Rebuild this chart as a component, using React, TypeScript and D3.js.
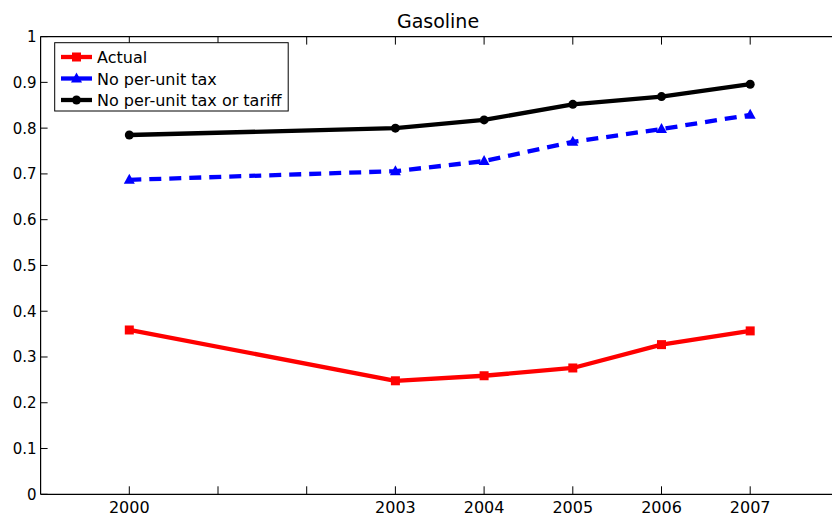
import React from "react";
import * as d3 from "d3";

const years = [2000, 2003, 2004, 2005, 2006, 2007];
const actual = [0.359, 0.248, 0.259, 0.276, 0.327, 0.357];
const noTax = [0.687, 0.706, 0.728, 0.770, 0.798, 0.829];
const noTaxTariff = [0.785, 0.800, 0.818, 0.852, 0.869, 0.896];
const xTickValues = [2000, 2001, 2002, 2003, 2004, 2005, 2006, 2007];
const xTickLabels = ["2000", "", "", "2003", "2004", "2005", "2006", "2007"];
const yTickValues = [0, 0.1, 0.2, 0.3, 0.4, 0.5, 0.6, 0.7, 0.8, 0.9, 1];
const seriesNames = ["Actual", "No per-unit tax", "No per-unit tax or tariff"];

const W = 832, H = 519;
const FONT = "'DejaVu Sans', sans-serif";

export default function App() {
  const x = d3.scaleLinear().domain([1999, 2008]).range([40.6, 838.9]);
  const y = d3.scaleLinear().domain([0, 1]).range([494.3, 36.6]);
  const line = d3.line<[number, number]>().x(d => x(d[0])).y(d => y(d[1]));
  const series = [
    { name: seriesNames[0], vals: actual, color: "#ff0000", marker: "square", dash: undefined },
    { name: seriesNames[1], vals: noTax, color: "#0000ff", marker: "triangle", dash: "12,8" },
    { name: seriesNames[2], vals: noTaxTariff, color: "#000000", marker: "circle", dash: undefined },
  ];
  const marker = (kind: string, cx: number, cy: number, color: string, key: any) => {
    if (kind === "square") return <rect key={key} x={cx - 4.5} y={cy - 4.5} width={9} height={9} fill={color} />;
    if (kind === "circle") return <circle key={key} cx={cx} cy={cy} r={4.5} fill={color} />;
    const p = `${cx},${cy - 6} ${cx - 5.5},${cy + 4} ${cx + 5.5},${cy + 4}`;
    return <polygon key={key} points={p} fill={color} />;
  };
  const x0 = x.range()[0], x1 = x.range()[1], y0 = y.range()[0], y1 = y.range()[1];
  return (
    <svg width={W} height={H} style={{ position: "absolute", left: 0, top: 0, background: "#fff" }} fontFamily={FONT}>
      <rect x={0} y={0} width={W} height={H} fill="#fff" />
      <text x={438} y={28} textAnchor="middle" fontSize={19} fill="#000">Gasoline</text>
      {/* axes box */}
      <path d={`M${x0},${y1}H${x1}M${x0},${y0}H${x1}M${x0},${y1}V${y0}`} stroke="#000" strokeWidth={1.2} fill="none" />
      {xTickValues.map((t, i) => (
        <g key={"xt" + i}>
          <line x1={x(t)} x2={x(t)} y1={y0} y2={y0 - 8} stroke="#000" strokeWidth={1} />
          <line x1={x(t)} x2={x(t)} y1={y1} y2={y1 + 8} stroke="#000" strokeWidth={1} />
          <text x={x(t)} y={513} textAnchor="middle" fontSize={16} fill="#000">{xTickLabels[i]}</text>
        </g>
      ))}
      {yTickValues.map((t, i) => (
        <g key={"yt" + i}>
          <line x1={x0} x2={x0 + 7} y1={y(t)} y2={y(t)} stroke="#000" strokeWidth={1} />
          <text x={36.5} y={y(t) + 5.5} textAnchor="end" fontSize={15} fill="#000">{d3.format("")(t)}</text>
        </g>
      ))}
      {series.map((s, si) => (
        <g key={"s" + si}>
          <path d={line(years.map((yr, i) => [yr, s.vals[i]] as [number, number])) || ""} fill="none" stroke={s.color} strokeWidth={4.3} strokeDasharray={s.dash} strokeLinejoin="round" />
          {years.map((yr, i) => marker(s.marker, x(yr), y(s.vals[i]), s.color, i))}
        </g>
      ))}
      {/* legend */}
      <rect x={54.7} y={42.7} width={233.5} height={68.3} fill="#fff" stroke="#000" strokeWidth={1} />
      {series.map((s, si) => {
        const ly = 57 + si * 21.5;
        return (
          <g key={"l" + si}>
            <line x1={61} x2={92} y1={ly} y2={ly} stroke={s.color} strokeWidth={4.3} />
            {marker(s.marker, 76.5, ly, s.color, "m")}
            <text x={97} y={ly + 6} fontSize={16} fill="#000">{s.name}</text>
          </g>
        );
      })}
    </svg>
  );
}
